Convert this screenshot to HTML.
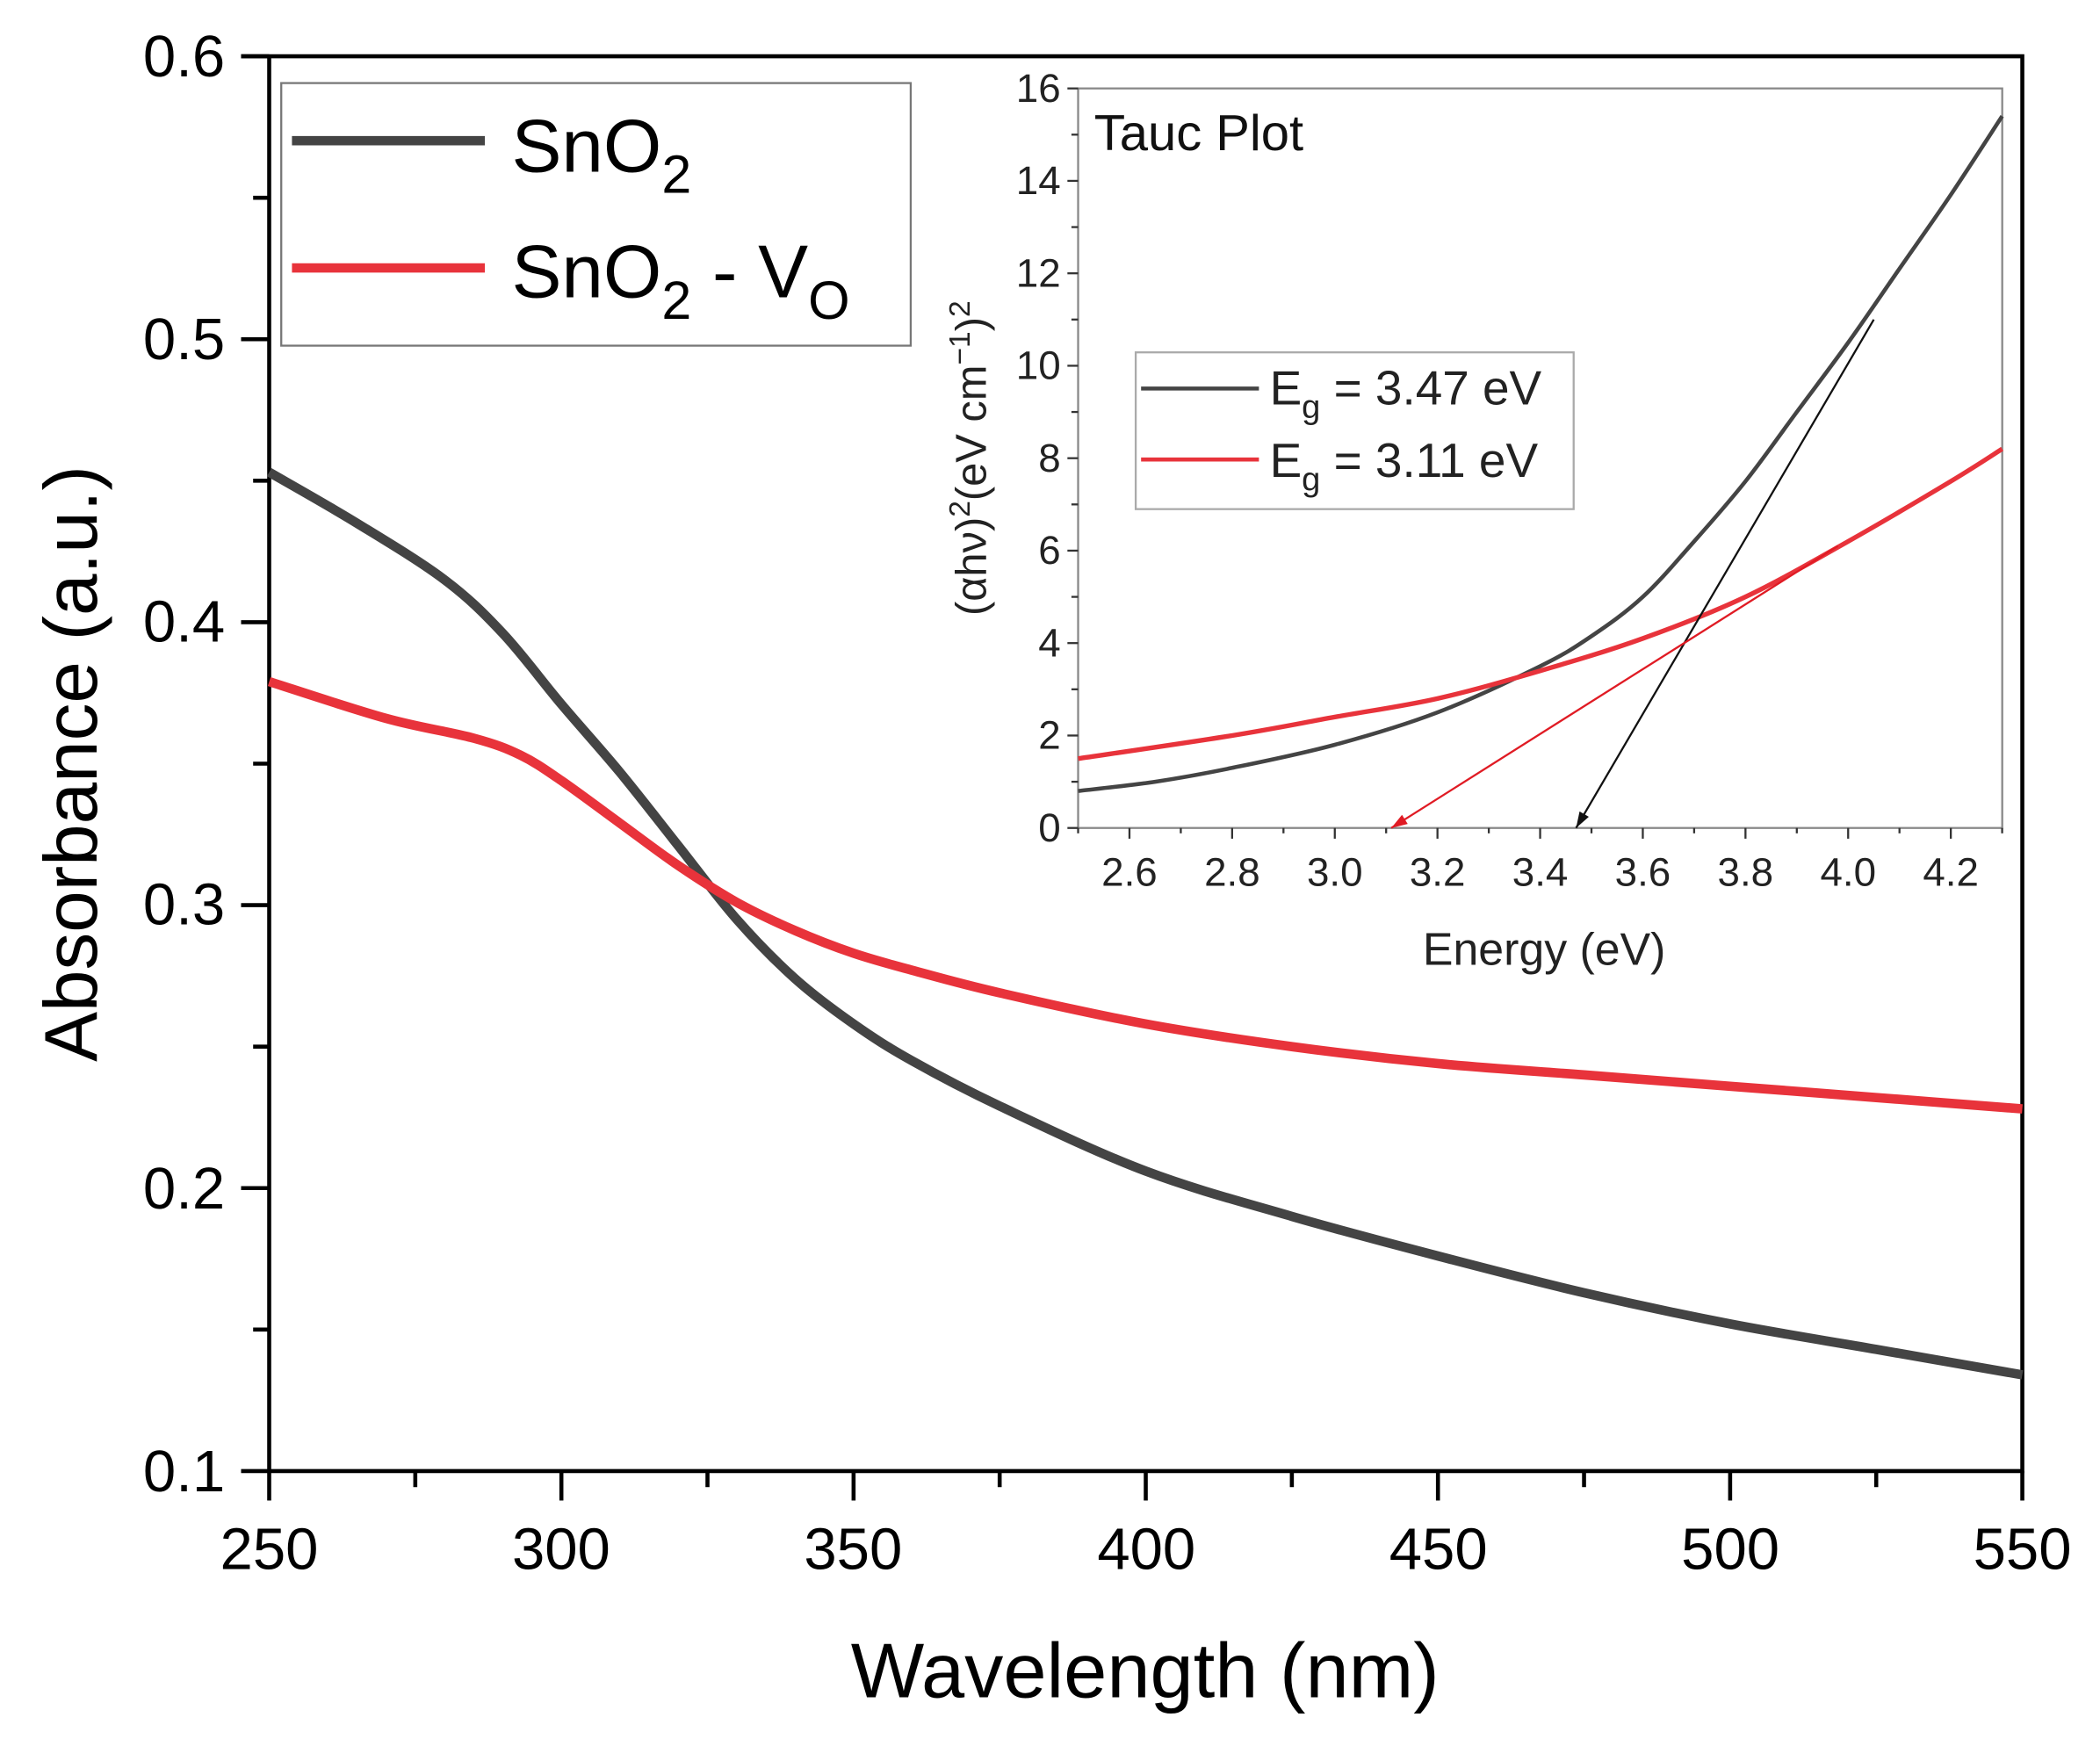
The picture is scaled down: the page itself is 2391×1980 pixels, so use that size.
<!DOCTYPE html>
<html><head><meta charset="utf-8"><style>
html,body{margin:0;padding:0;background:#fff;}
svg{display:block;font-family:"Liberation Sans",Arial,sans-serif;}
</style></head><body>
<svg id="s" width="2391" height="1980" viewBox="0 0 1568 1298" preserveAspectRatio="none" xmlns="http://www.w3.org/2000/svg">
<rect width="1568" height="1298" fill="#fff"/>
<g id="main" stroke="#000" stroke-width="3" fill="none">
<path d="M201 42 V1098 H1510 V42 H180"/>
</g>
<g id="ticks" stroke="#000" stroke-width="3"></g>
<g font-size="44" fill="#000" text-anchor="end">
<text x="168" y="57">0.6</text><text x="168" y="268">0.5</text><text x="168" y="479">0.4</text>
<text x="168" y="690">0.3</text><text x="168" y="902">0.2</text><text x="168" y="1113">0.1</text>
</g>
<g font-size="44" fill="#000" text-anchor="middle">
<text x="201" y="1171">250</text><text x="419" y="1171">300</text><text x="637" y="1171">350</text>
<text x="856" y="1171">400</text><text x="1074" y="1171">450</text><text x="1292" y="1171">500</text><text x="1510" y="1171">550</text>
</g>
<text x="855" y="1267" font-size="58" text-anchor="middle">Wavelength (nm)</text>
<text transform="translate(72 570) rotate(-90)" font-size="56" text-anchor="middle">Absorbance (a.u.)</text>
<path id="blk" fill="none" stroke="#444" stroke-width="7"/>
<path id="red" fill="none" stroke="#e8333b" stroke-width="7"/>
<rect x="210" y="62" width="470" height="196" fill="#fff" stroke="#777" stroke-width="1.5"/>
<line x1="218" y1="105" x2="362" y2="105" stroke="#444" stroke-width="7"/>
<line x1="218" y1="200" x2="362" y2="200" stroke="#e8333b" stroke-width="7"/>
<text x="382" y="128" font-size="56">SnO<tspan font-size="40" dy="16">2</tspan></text>
<text x="382" y="222" font-size="56">SnO<tspan font-size="40" dy="16">2</tspan><tspan dy="-16"> - V</tspan><tspan font-size="40" dy="16">O</tspan></text>
<!-- inset -->
<rect x="805" y="66" width="690" height="552" fill="#fff" stroke="#888" stroke-width="1.5"/>
<g id="iticks" stroke="#333" stroke-width="1.5"></g>
<g font-size="30" fill="#222" text-anchor="end" id="iyl"></g>
<g font-size="30" fill="#222" text-anchor="middle" id="ixl"></g>
<text x="1153" y="720" font-size="34" text-anchor="middle" fill="#222">Energy (eV)</text>
<text transform="translate(736 342) rotate(-90)" font-size="32" text-anchor="middle" fill="#222">(αhν)<tspan font-size="22" dy="-12">2</tspan><tspan dy="12">(eV cm</tspan><tspan font-size="22" dy="-12">−1</tspan><tspan dy="12">)</tspan><tspan font-size="22" dy="-12">2</tspan></text>
<text x="817" y="112" font-size="38" fill="#111">Tauc Plot</text>
<path id="iblk" fill="none" stroke="#444" stroke-width="3"/>
<path id="ired" fill="none" stroke="#e8333b" stroke-width="3.5"/>
<line id="ab" stroke="#111" stroke-width="1.5"/>
<line id="ar" stroke="#e01b24" stroke-width="1.5"/>
<polygon id="abh" fill="#111"/><polygon id="arh" fill="#e01b24"/>
<rect x="848" y="263" width="327" height="117" fill="#fff" stroke="#aaa" stroke-width="1.5"/>
<line x1="852" y1="290" x2="940" y2="290" stroke="#444" stroke-width="3"/>
<line x1="852" y1="343" x2="940" y2="343" stroke="#e8333b" stroke-width="3"/>
<text x="948" y="302" font-size="36" fill="#222">E<tspan font-size="25" dy="10">g</tspan><tspan dy="-10"> = 3.47 eV</tspan></text>
<text x="948" y="356" font-size="36" fill="#222">E<tspan font-size="25" dy="10">g</tspan><tspan dy="-10"> = 3.11 eV</tspan></text>
</svg>
<script>
function X(w){return 201+(w-250)*(1309/300);}
function Y(v){return 1098-(v-0.1)*2112;}
function smooth(pts){var d="M"+pts[0][0]+" "+pts[0][1];for(var i=0;i<pts.length-1;i++){var p0=pts[i-1]||pts[i],p1=pts[i],p2=pts[i+1],p3=pts[i+2]||p2;
d+=" C"+(p1[0]+(p2[0]-p0[0])/6)+" "+(p1[1]+(p2[1]-p0[1])/6)+" "+(p2[0]-(p3[0]-p1[0])/6)+" "+(p2[1]-(p3[1]-p1[1])/6)+" "+p2[0]+" "+p2[1];}return d;}
var b=[[250,.453],[265,.435],[280,.415],[290,.396],[300,.371],[310,.347],[320,.321],[330,.295],[340,.274],[350,.258],[360,.245],[375,.229],[400,.206],[425,.19],[450,.176],[475,.163],[500,.152],[525,.143],[550,.134]];
var r=[[250,.379],[270,.366],[285,.359],[293,.353],[300,.344],[310,.329],[320,.314],[330,.301],[340,.291],[350,.283],[360,.277],[375,.269],[400,.258],[425,.25],[450,.244],[475,.240],[500,.236],[525,.232],[550,.228]];
document.getElementById("blk").setAttribute("d",smooth(b.map(p=>[X(p[0]),Y(p[1])])));
document.getElementById("red").setAttribute("d",smooth(r.map(p=>[X(p[0]),Y(p[1])])));
var t="";
for(var w=250;w<=550;w+=25){var x=X(w);t+='<line x1="'+x+'" y1="1098" x2="'+x+'" y2="'+(w%50==0?1120:1110)+'"/>';}
for(var v=0.1;v<=0.601;v+=0.05){var y=Y(v);var maj=Math.round(v*100)%10==0;t+='<line x1="'+(maj?180:189)+'" y1="'+y+'" x2="201" y2="'+y+'"/>';}
document.getElementById("ticks").innerHTML=t;
function IX(e){return 805+(e-2.5)*383.3;}
function IY(v){return 618-v*34.5;}
var ib=[[2.5,.8],[2.65,1.0],[2.8,1.3],[3.0,1.8],[3.2,2.5],[3.4,3.5],[3.5,4.15],[3.6,5.0],[3.7,6.2],[3.8,7.5],[3.9,9.0],[4.0,10.5],[4.1,12.1],[4.2,13.7],[4.3,15.4]];
var ir=[[2.5,1.5],[2.8,2.0],[3.0,2.4],[3.2,2.8],[3.4,3.4],[3.6,4.1],[3.8,5.0],[4.0,6.2],[4.2,7.5],[4.3,8.2]];
document.getElementById("iblk").setAttribute("d",smooth(ib.map(p=>[IX(p[0]),IY(p[1])])));
document.getElementById("ired").setAttribute("d",smooth(ir.map(p=>[IX(p[0]),IY(p[1])])));
var it="",yl="",xl="";
for(var k=0;k<=16;k++){var y=IY(k);it+='<line x1="'+(k%2==0?797:800)+'" y1="'+y+'" x2="805" y2="'+y+'"/>';if(k%2==0)yl+='<text x="792" y="'+(y+10)+'">'+k+'</text>';}
for(var e=2.5;e<=4.31;e+=0.1){var x=IX(e);var m=Math.round(e*10)%2==0;it+='<line x1="'+x+'" y1="618" x2="'+x+'" y2="'+(m?626:622)+'"/>';if(m)xl+='<text x="'+x+'" y="661">'+e.toFixed(1)+'</text>';}
document.getElementById("iticks").innerHTML=it;document.getElementById("iyl").innerHTML=yl;document.getElementById("ixl").innerHTML=xl;
function arrow(id,hid,e1,v1,e0){var x1=IX(e1),y1=IY(v1),x0=IX(e0),y0=IY(0);var l=document.getElementById(id);l.setAttribute("x1",x1);l.setAttribute("y1",y1);l.setAttribute("x2",x0);l.setAttribute("y2",y0);
var dx=x0-x1,dy=y0-y1,L=Math.hypot(dx,dy);dx/=L;dy/=L;var s=12,w=4;var bx=x0-dx*s,by=y0-dy*s;
document.getElementById(hid).setAttribute("points",x0+","+y0+" "+(bx-dy*w)+","+(by+dx*w)+" "+(bx+dy*w)+","+(by-dx*w));}
arrow("ab","abh",4.05,11.0,3.47);arrow("ar","arh",3.98,6.1,3.11);
</script>
</body></html>
